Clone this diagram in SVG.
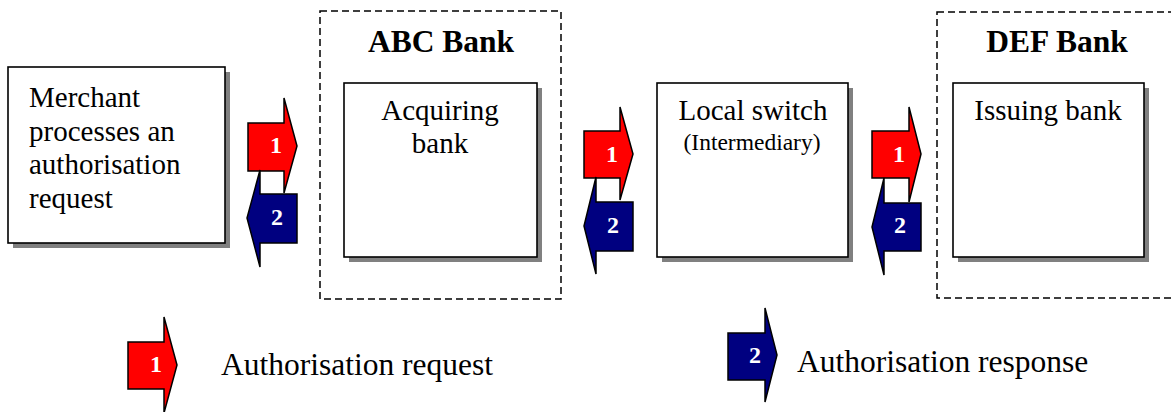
<svg xmlns="http://www.w3.org/2000/svg" width="1171" height="412" viewBox="0 0 1171 412">
  <style>
    text { font-family: "Liberation Serif", "Times New Roman", serif; fill: #000; }
    .box { fill: #fff; stroke: #000; stroke-width: 1.6; }
    .shadow { fill: #808080; }
    .group { fill: none; stroke: #000; stroke-width: 1.5; stroke-dasharray: 7 4; }
    .label { font-size: 29px; }
    .small { font-size: 23.5px; }
    .title { font-size: 31.5px; font-weight: bold; }
    .legend { font-size: 31.5px; }
    .req { fill: #ff0000; stroke: #000; stroke-width: 1.5; stroke-linejoin: miter; }
    .resp { fill: #000080; stroke: #000; stroke-width: 1.5; stroke-linejoin: miter; }
    .num { font-size: 24px; font-weight: bold; fill: #fff; text-anchor: middle; }
    .mid { text-anchor: middle; }
  </style>

  <rect width="1171" height="412" fill="#fff"/>

  <!-- Bank boundaries -->
  <g id="abc-bank">
    <rect class="group" x="320" y="11" width="241" height="288"/>
    <text class="title mid" x="441" y="52">ABC Bank</text>
  </g>
  <g id="def-bank">
    <rect class="group" x="937" y="12" width="260" height="286"/>
    <text class="title mid" x="1057" y="52">DEF Bank</text>
  </g>

  <!-- Participants -->
  <g id="merchant">
    <rect class="shadow" x="13" y="72" width="217" height="176"/>
    <rect class="box" x="8" y="67" width="217" height="176"/>
    <text class="label" x="29" y="107">Merchant</text>
    <text class="label" x="29" y="140.5">processes an</text>
    <text class="label" x="29" y="174">authorisation</text>
    <text class="label" x="29" y="207.5">request</text>
  </g>
  <g id="acquiring-bank">
    <rect class="shadow" x="349" y="88" width="193" height="174"/>
    <rect class="box" x="344" y="83" width="193" height="174"/>
    <text class="label mid" x="440" y="120">Acquiring</text>
    <text class="label mid" x="440" y="153">bank</text>
  </g>
  <g id="local-switch">
    <rect class="shadow" x="662" y="88" width="191" height="174"/>
    <rect class="box" x="657" y="83" width="191" height="174"/>
    <text class="label mid" x="753" y="120">Local switch</text>
    <text class="small mid" x="752" y="150">(Intermediary)</text>
  </g>
  <g id="issuing-bank">
    <rect class="shadow" x="958" y="88" width="191" height="174"/>
    <rect class="box" x="953" y="83" width="191" height="174"/>
    <text class="label mid" x="1048" y="120">Issuing bank</text>
  </g>

  <!-- Message flows: 1 = request (right), 2 = response (left) -->
  <g id="connectors">
    <g id="merchant-acquirer">
      <path class="req" d="M248,123 H284 V98 L297,146 L284,193 V171 H248 Z"/>
      <path class="resp" d="M297,194 V243 H260 V267 L247,218 L260,170 V194 Z"/>
      <text class="num" x="276" y="153">1</text>
      <text class="num" x="277" y="225">2</text>
    </g>
    <g id="acquirer-switch">
      <path class="req" d="M584,131 H620 V107 L633,154 L620,200 V178 H584 Z"/>
      <path class="resp" d="M633,202 V251 H596 V274 L584,226 L596,177 V202 Z"/>
      <text class="num" x="612" y="162">1</text>
      <text class="num" x="613" y="233">2</text>
    </g>
    <g id="switch-issuer">
      <path class="req" d="M872,131 H909 V107 L921,154 L909,202 V178 H872 Z"/>
      <path class="resp" d="M921,203 V251 H884 V275 L872,227 L884,178 V203 Z"/>
      <text class="num" x="899" y="162">1</text>
      <text class="num" x="900" y="233">2</text>
    </g>
  </g>

  <!-- Legend -->
  <g id="legend-request">
    <path class="req" d="M128,342 H164 V317 L177,365 L164,413 V389 H128 Z"/>
    <text class="num" x="156" y="372">1</text>
    <text class="legend" x="221" y="375">Authorisation request</text>
  </g>
  <g id="legend-response">
    <path class="resp" d="M728,333 H765 V308 L777,355 L765,402 V380 H728 Z"/>
    <text class="num" x="755" y="363">2</text>
    <text class="legend" x="797" y="372">Authorisation response</text>
  </g>
</svg>
